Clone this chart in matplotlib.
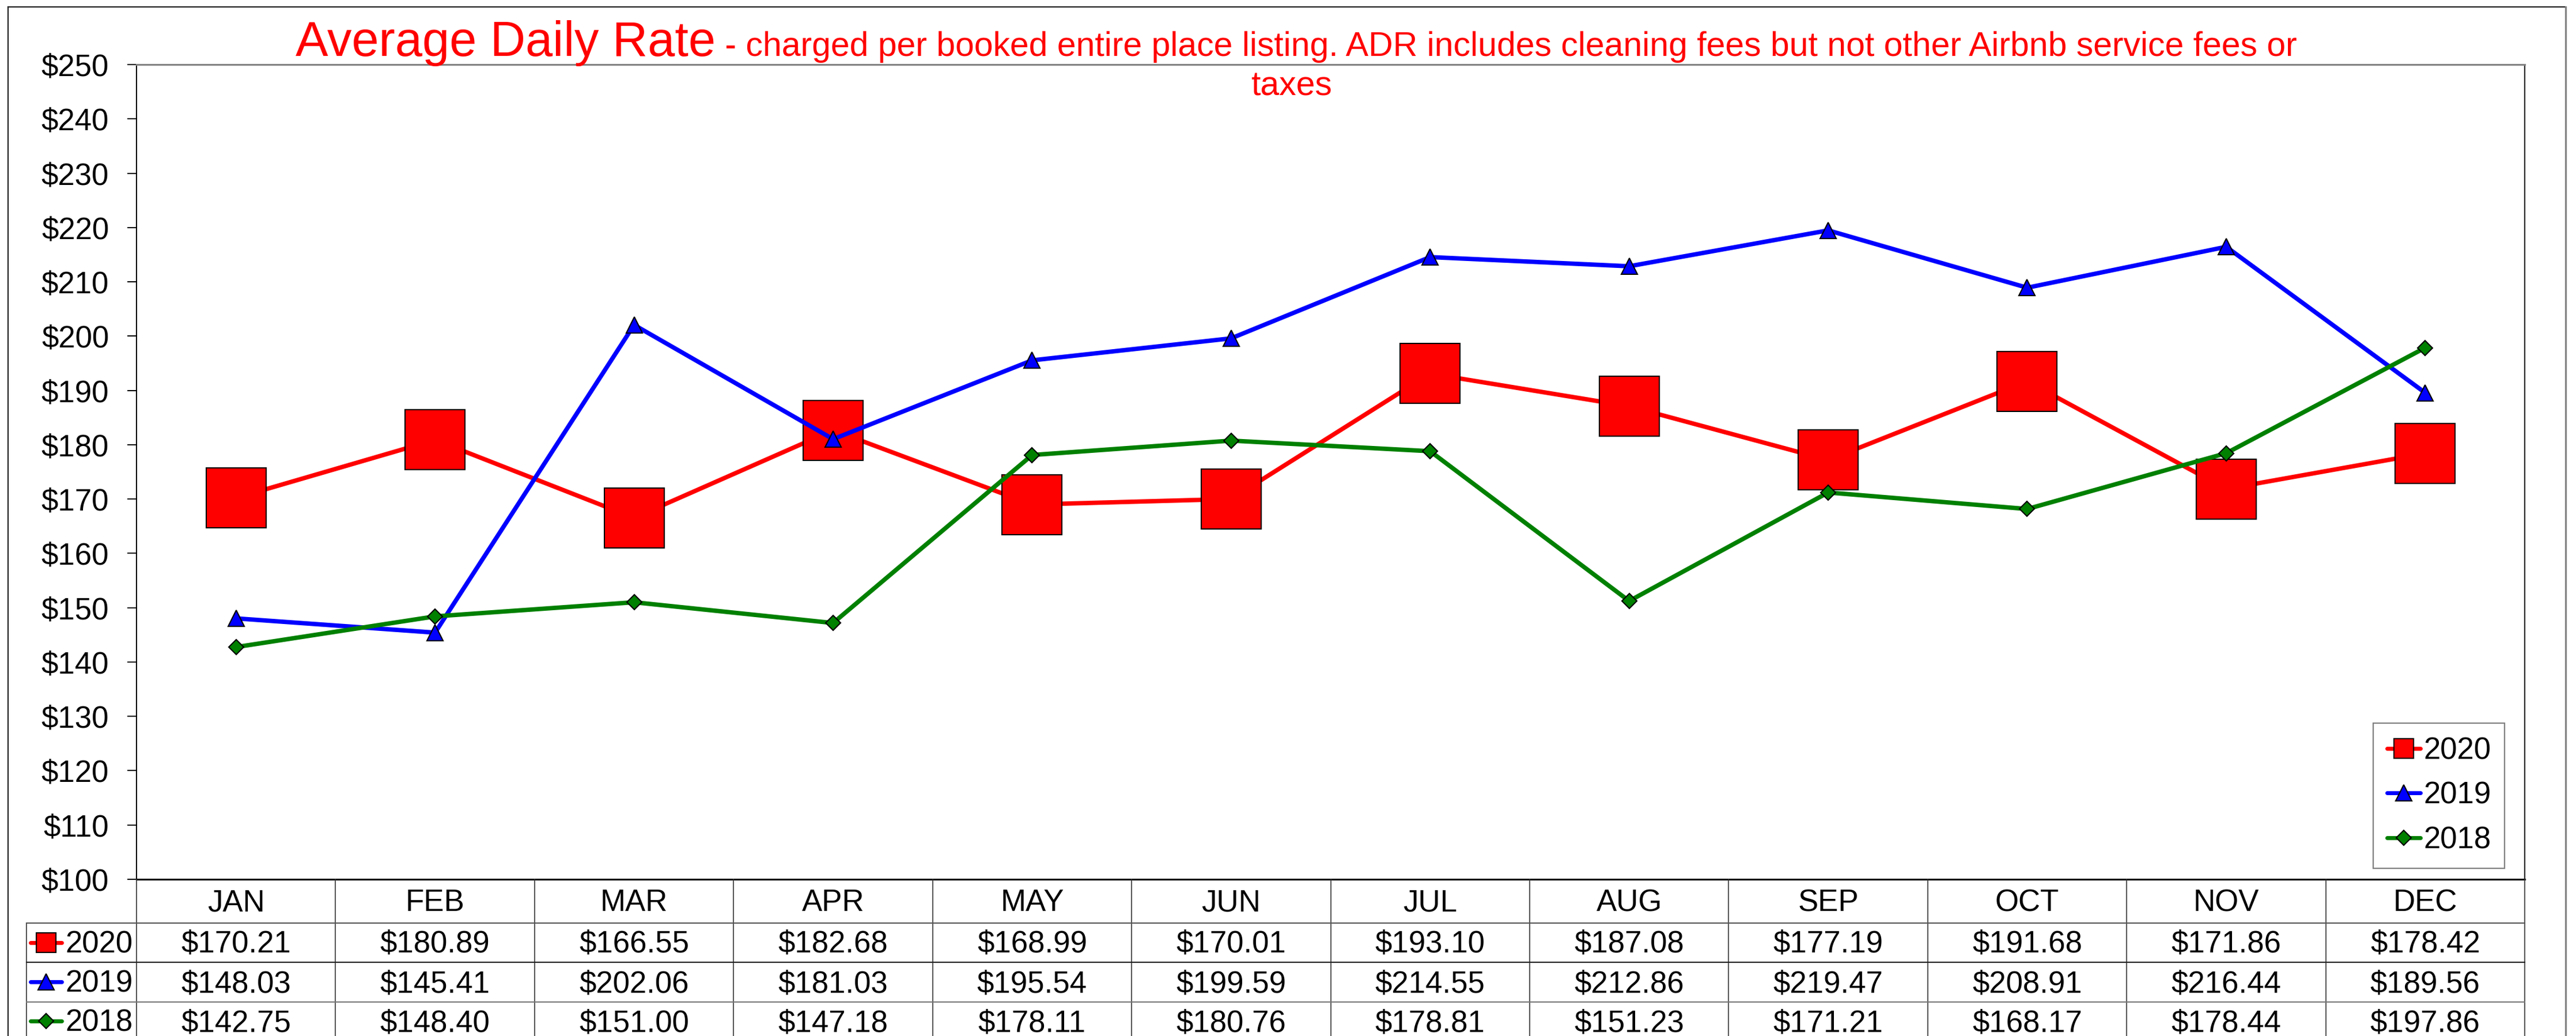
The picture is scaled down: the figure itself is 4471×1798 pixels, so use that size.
import matplotlib
matplotlib.use("Agg")
import matplotlib.pyplot as plt
from matplotlib.lines import Line2D
from matplotlib.transforms import blended_transform_factory

plt.rcParams['font.family'] = ['Liberation Sans', 'DejaVu Sans']

# Data
months = ['JAN', 'FEB', 'MAR', 'APR', 'MAY', 'JUN', 'JUL', 'AUG', 'SEP', 'OCT', 'NOV', 'DEC']
adr_2020 = [170.21, 180.89, 166.55, 182.68, 168.99, 170.01, 193.10, 187.08, 177.19, 191.68, 171.86, 178.42]
adr_2019 = [148.03, 145.41, 202.06, 181.03, 195.54, 199.59, 214.55, 212.86, 219.47, 208.91, 216.44, 189.56]
adr_2018 = [142.75, 148.40, 151.00, 147.18, 178.11, 180.76, 178.81, 151.23, 171.21, 168.17, 178.44, 197.86]
years = ['2020', '2019', '2018']
y_ticks = list(range(100, 251, 10))

W, H = 4471, 1798
fig = plt.figure(figsize=(W / 100, H / 100), dpi=100)


def fx(x):
    return x / W


def fy(y):
    return 1 - y / H


# plot area in pixel coords
L, R, T, B = 237, 4382, 112, 1526
ax = fig.add_axes([fx(L), fy(B), fx(R) - fx(L), fy(T) - fy(B)])

styles = {
    '2020': dict(color='#FF0000', marker='s', ms=75, legend_ms=24.5),
    '2019': dict(color='#0000FF', marker='^', ms=19.5, legend_ms=19.5),
    '2018': dict(color='#008000', marker='D', ms=13.7, legend_ms=13.7),
}
series = {'2020': adr_2020, '2019': adr_2019, '2018': adr_2018}
x = list(range(len(months)))

for i, yr in enumerate(years):
    st = styles[yr]
    ax.plot(x, series[yr], color=st['color'], lw=5.5, marker=st['marker'], ms=st['ms'],
            mfc=st['color'], mec='black', mew=1.5, zorder=3 + i,
            solid_capstyle='round', clip_on=False)

ax.set_xlim(-0.5, 11.5)
ax.set_ylim(100, 250)
ax.set_yticks(y_ticks)
ax.set_yticklabels([f'${v}' for v in y_ticks], fontsize=38)
ax.tick_params(axis='y', length=11.5, width=1.4, pad=23, direction='out')
ax.set_xticks([])
ax.spines['top'].set_color('#808080')
ax.spines['top'].set_linewidth(2.2)
ax.spines['bottom'].set_linewidth(2.2)
ax.spines['left'].set_linewidth(1.4)
ax.spines['right'].set_linewidth(1.4)

# legend
handles = []
for yr in years:
    st = styles[yr]
    handles.append(Line2D([], [], color=st['color'], lw=5, marker=st['marker'],
                          ms=st['legend_ms'], mfc=st['color'], mec='black', mew=1.5,
                          solid_capstyle='round'))
leg = ax.legend(handles, years, loc='lower right', bbox_to_anchor=(fx(4347), fy(1507)),
                bbox_transform=fig.transFigure, borderaxespad=0, fontsize=38,
                handlelength=1.1, handletextpad=0.1, labelspacing=0.52,
                borderpad=0.45, fancybox=False, framealpha=1)
leg.get_frame().set_edgecolor('#808080')
leg.get_frame().set_linewidth(1.6)

# title
t1 = fig.text(fx(513), fy(97), 'Average Daily Rate', color='#FF0000', fontsize=61,
              ha='left', va='baseline')
fig.canvas.draw()
ext = t1.get_window_extent()
fig.text(ext.x1 / W, fy(97),
         ' - charged per booked entire place listing. ADR includes cleaning fees but not other Airbnb service fees or',
         color='#FF0000', fontsize=42.4, ha='left', va='baseline')
fig.text(fx(2241), fy(166), 'taxes', color='#FF0000', fontsize=42.4, ha='center', va='baseline')

# outer frame
fig.add_artist(Line2D([fx(14), fx(4453)], [fy(12), fy(12)], color='#222222', lw=1.6))
fig.add_artist(Line2D([fx(14), fx(14)], [fy(12), fy(H + 5)], color='#222222', lw=1.6))
fig.add_artist(Line2D([fx(4453), fx(4453)], [fy(12), fy(H + 5)], color='#808080', lw=2.2))

# data table
tr = blended_transform_factory(ax.transData, fig.transFigure)
for k in range(13):
    fig.add_artist(Line2D([k - 0.5, k - 0.5], [fy(B), fy(H + 5)], transform=tr,
                          color='#333333', lw=1.2))
fig.add_artist(Line2D([fx(46), fx(46)], [fy(1602), fy(H + 5)], color='#333333', lw=1.2))
row_lines = [(1602, '#555555'), (1670, '#222222'), (1739, '#777777')]
for yline, c in row_lines:
    fig.add_artist(Line2D([fx(46), fx(R)], [fy(yline), fy(yline)], color=c, lw=1.5))

for j, m in enumerate(months):
    fig.text(j, fy(1581), m, transform=tr, fontsize=38, ha='center', va='baseline')

row_base = {'2020': 1653, '2019': 1722, '2018': 1790}
row_mid = {'2020': 1636, '2019': 1704, '2018': 1772}
for yr in years:
    st = styles[yr]
    for j, v in enumerate(series[yr]):
        fig.text(j, fy(row_base[yr]), f'${v:.2f}', transform=tr, fontsize=38,
                 ha='center', va='baseline')
    fig.add_artist(Line2D([fx(53), fx(80), fx(107)], [fy(row_mid[yr])] * 3,
                          color=st['color'], lw=5, marker=st['marker'], ms=st['legend_ms'],
                          mfc=st['color'], mec='black', mew=1.5, markevery=[1],
                          solid_capstyle='round'))
    fig.text(fx(113), fy(row_base[yr]), yr, fontsize=38, ha='left', va='baseline')

fig.savefig('out.png', dpi=100, facecolor='white')
